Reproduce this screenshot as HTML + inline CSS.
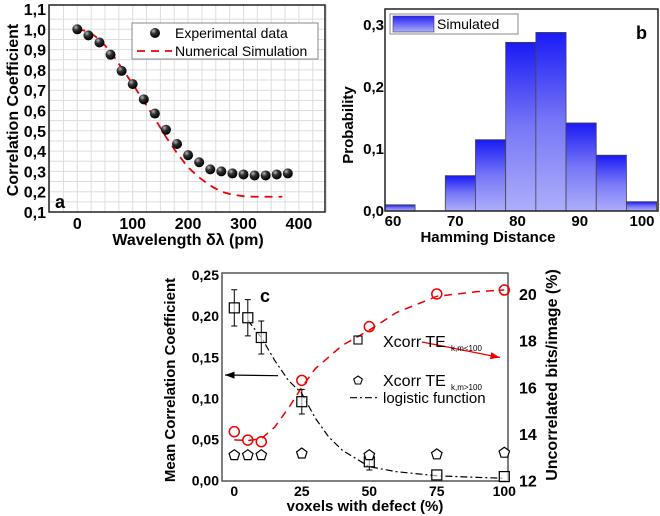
<!DOCTYPE html>
<html><head><meta charset="utf-8"><style>
body{margin:0;background:#fff;}
svg{display:block;font-family:"Liberation Sans",sans-serif;}
.b{font-weight:bold;}
</style></head><body>
<svg id="fig" width="660" height="516" viewBox="0 0 660 516">
<defs>
<linearGradient id="bg" x1="0" y1="0" x2="0" y2="1"><stop offset="0" stop-color="#1a1af5"/><stop offset="0.5" stop-color="#7777f7"/><stop offset="1" stop-color="#aeaefa"/></linearGradient>
<linearGradient id="lg" x1="0" y1="0" x2="0" y2="1"><stop offset="0" stop-color="#2222f5"/><stop offset="1" stop-color="#aeaefa"/></linearGradient>
<radialGradient id="ball" cx="0.35" cy="0.3" r="0.7"><stop offset="0" stop-color="#bbb"/><stop offset="0.4" stop-color="#333"/><stop offset="1" stop-color="#000"/></radialGradient>
<marker id="ak" markerWidth="8" markerHeight="6" refX="8" refY="3" orient="auto"><path d="M0,0L8,3L0,6z" fill="#000"/></marker>
<marker id="ar" markerWidth="8" markerHeight="6" refX="8" refY="3" orient="auto"><path d="M0,0L8,3L0,6z" fill="#e00"/></marker>
</defs>
<g id="pa"></g>
<g id="pb"></g>
<g id="pc"></g>
</svg>
<script>
// Panel a data
const aExpX=[0,20,40,60,80,100,120,140,160,180,200,220,240,260,280,300,320,340,360,380];
const aExpY=[1.0,0.97,0.935,0.875,0.795,0.73,0.655,0.585,0.505,0.435,0.38,0.345,0.31,0.3,0.29,0.285,0.28,0.28,0.285,0.29];
const aSimX=[0,20,40,60,80,100,120,140,160,180,200,220,240,260,280,300,320,340,370];
const aSimY=[1.0,0.99,0.95,0.89,0.81,0.73,0.645,0.56,0.47,0.39,0.32,0.27,0.23,0.2,0.185,0.178,0.175,0.175,0.175];
const aXTicks=[0,100,200,300,400];
const aYTicks=["0,1","0,2","0,3","0,4","0,5","0,6","0,7","0,8","0,9","1,0","1,1"];
// Panel b data
const bEdges=[58.7,63.55,68.4,73.25,78.1,82.95,87.8,92.65,97.5,102.35];
const bProb=[0.01,0,0.057,0.115,0.272,0.288,0.142,0.09,0.015];
const bXTicks=[60,70,80,90,100];
const bYTicks=["0,0","0,1","0,2","0,3"];
// Panel c data
const cX=[0,5,10,25,50,75,100];
const cSq=[0.21,0.198,0.174,0.096,0.023,0.007,0.005];
const cErr=[0.022,0.022,0.02,0.015,0.01,0,0];
const cPent=[0.031,0.031,0.031,0.033,0.031,0.032,0.034];
const cRed=[14.1,13.74,13.67,16.3,18.6,20.0,20.17];
const cLogX=[5,10,15,20,25,30,35,40,50,60,75,90,100];
const cLogY=[0.195,0.174,0.146,0.122,0.106,0.076,0.053,0.037,0.017,0.011,0.006,0.004,0.003];
const cFitX=[0,5,10,15,20,25,30,40,50,60,75,90,100];
const cFitY=[13.75,13.72,13.8,14.3,15.1,16.0,16.8,17.8,18.45,19.2,19.9,20.1,20.17];
const cXTicks=[0,25,50,75,100];
const cYTicks=["0,00","0,05","0,10","0,15","0,20","0,25"];
const cY2Ticks=[12,14,16,18,20];

const NS="http://www.w3.org/2000/svg";
function mk(p,t,a,txt){const e=document.createElementNS(NS,t);for(const k in a)e.setAttribute(k,a[k]);if(txt!==undefined)e.textContent=txt;p.appendChild(e);return e;}

// ---------- Panel a ----------
(function(){
const g=document.getElementById('pa');
const L=49,R=325,T=5,B=212;
const x=v=>77.3+v*0.554, y=v=>212-(v-0.1)*203;
for(let v=-50;v<=450;v+=25){const e=mk(g,'line',{x1:x(v),x2:x(v),y1:T,y2:B,stroke:'#ddd','stroke-width':1});}
for(let v=0.1;v<=1.1;v+=0.05){const e=mk(g,'line',{x1:L,x2:R,y1:y(v),y2:y(v),stroke:'#ddd','stroke-width':1});}
const fr=mk(g,'rect',{x:L,y:T,width:R-L,height:B-T,fill:'none',stroke:'#222','stroke-width':1.5});

aXTicks.forEach(v=>{const t=mk(g,'text',{x:x(v),y:229,'text-anchor':'middle','font-size':16,class:'b'},v);});
aYTicks.forEach((s,i)=>{const t=mk(g,'text',{x:46,y:y(0.1+i*0.1)+6,'text-anchor':'end','font-size':16,class:'b'},s);});
const sim=mk(g,'polyline',{points:aSimX.map((v,i)=>x(v)+','+y(aSimY[i])).join(' '),fill:'none',stroke:'#e00','stroke-width':1.8,'stroke-dasharray':'8,6'});

aExpX.forEach((v,i)=>{const c=mk(g,'circle',{cx:x(v),cy:y(aExpY[i]),r:5,fill:'url(#ball)'});});
const lb=mk(g,'rect',{x:132,y:23,width:186,height:36,fill:'#fff',stroke:'#888'});
mk(g,'circle',{cx:155,cy:33,r:5,fill:'url(#ball)'});
mk(g,'text',{x:175,y:38,'font-size':14},'Experimental data');
mk(g,'line',{x1:137,x2:172,y1:51,y2:51,stroke:'#e00','stroke-width':1.8,'stroke-dasharray':'8,6'});
mk(g,'text',{x:175,y:56,'font-size':14},'Numerical Simulation');
const pl=mk(g,'text',{x:55,y:208,'font-size':18,class:'b'},'a');
const xl=mk(g,'text',{x:188,y:245,'text-anchor':'middle','font-size':16,class:'b'},'Wavelength δλ (pm)');
const yl=mk(g,'text',{x:0,y:0,'text-anchor':'middle','font-size':16,class:'b',transform:'translate(18,110) rotate(-90)'},'Correlation Coefficient');
})();

// ---------- Panel b ----------
(function(){
const g=document.getElementById('pb');
const L=385,R=658,T=9,B=211;
const x=v=>393+(v-60)*6.225, y=v=>211-v*620;
mk(g,'rect',{x:L,y:T,width:R-L,height:B-T,fill:'#fff'});
bProb.forEach((p,i)=>{if(p<=0)return;const r=mk(g,'rect',{x:x(bEdges[i]),y:y(p),width:x(bEdges[i+1])-x(bEdges[i]),height:B-y(p),fill:'url(#bg)',stroke:'#444','stroke-width':0.8});});
const fr=mk(g,'rect',{x:L,y:T,width:R-L,height:B-T,fill:'none',stroke:'#222','stroke-width':1.5});
bXTicks.forEach(v=>{const t=mk(g,'text',{x:x(v),y:226,'text-anchor':'middle','font-size':15,class:'b'},v);});
bYTicks.forEach((s,i)=>{const t=mk(g,'text',{x:384,y:y(i*0.1)+5,'text-anchor':'end','font-size':15,class:'b'},s);});
const lb=mk(g,'rect',{x:390,y:14,width:128,height:20,fill:'#fff',stroke:'#888'});
mk(g,'rect',{x:393,y:16,width:41,height:16,fill:'url(#lg)',stroke:'#444','stroke-width':0.6});
mk(g,'text',{x:437,y:29,'font-size':14},'Simulated');
const pl=mk(g,'text',{x:636,y:39,'font-size':18,class:'b'},'b');
const xl=mk(g,'text',{x:488,y:242,'text-anchor':'middle','font-size':15,class:'b'},'Hamming Distance');
const yl=mk(g,'text',{x:0,y:0,'text-anchor':'middle','font-size':15,class:'b',transform:'translate(353,125) rotate(-90)'},'Probability');
})();

// ---------- Panel c ----------
(function(){
const g=document.getElementById('pc');
const L=222,R=508,T=273,B=481;
const x=v=>234.3+v*2.7, y=v=>480.7-v*823, y2=v=>480.7-(v-12)*23.34;
const fr=mk(g,'rect',{x:L,y:T,width:R-L,height:B-T,fill:'none',stroke:'#555','stroke-width':1.5});
cXTicks.forEach(v=>{const t=mk(g,'text',{x:x(v),y:496,'text-anchor':'middle','font-size':14,class:'b'},v);});
cYTicks.forEach((s,i)=>{const t=mk(g,'text',{x:219,y:y(i*0.05)+5,'text-anchor':'end','font-size':14,class:'b'},s);});
cY2Ticks.forEach(v=>{const t=mk(g,'text',{x:519,y:y2(v)+6,'font-size':16,class:'b'},v);});
const fit=mk(g,'polyline',{points:cFitX.map((v,i)=>x(v)+','+y2(cFitY[i])).join(' '),fill:'none',stroke:'#e00','stroke-width':1.5,'stroke-dasharray':'8,6'});
const lg=mk(g,'polyline',{points:cLogX.map((v,i)=>x(v)+','+y(cLogY[i])).join(' '),fill:'none',stroke:'#000','stroke-width':1.2,'stroke-dasharray':'7,3,2,3'});
cX.forEach((v,i)=>{
 const cx=x(v);
 if(cErr[i]>0){const e=mk(g,'path',{d:`M${cx},${y(cSq[i]+cErr[i])}V${y(cSq[i]-cErr[i])}M${cx-3},${y(cSq[i]+cErr[i])}h6M${cx-3},${y(cSq[i]-cErr[i])}h6`,stroke:'#000','stroke-width':1,fill:'none'});}
 const s=mk(g,'rect',{x:cx-5,y:y(cSq[i])-5,width:10,height:10,fill:'#fff','fill-opacity':0.6,stroke:'#000','stroke-width':1.2});
 const py=y(cPent[i]);const pts=[0,1,2,3,4].map(k=>{const a=-Math.PI/2+k*2*Math.PI/5;return (cx+5.5*Math.cos(a))+','+(py+5.5*Math.sin(a));}).join(' ');
 const p=mk(g,'polygon',{points:pts,fill:'#fff',stroke:'#000','stroke-width':1.2});
 const r=mk(g,'circle',{cx:cx,cy:y2(cRed[i]),r:5,fill:'none',stroke:'#e00','stroke-width':1.5});
});
const a1=mk(g,'line',{x1:278,y1:375.7,x2:225,y2:375,stroke:'#000','stroke-width':1.2,'marker-end':'url(#ak)'});
const a2=mk(g,'line',{x1:422,y1:342,x2:500,y2:357.5,stroke:'#e00','stroke-width':1.2,'marker-end':'url(#ar)'});
mk(g,'rect',{x:354,y:336,width:8,height:8,fill:'none',stroke:'#000','stroke-width':1.1});
const t1=mk(g,'text',{x:383,y:347,'font-size':16},'Xcorr TE');
mk(g,'text',{x:451,y:351,'font-size':8},'k,m<100');
mk(g,'polygon',{points:'358,376 362.3,379 360.6,384 355.4,384 353.7,379',fill:'#fff',stroke:'#000','stroke-width':1.1});
const t2=mk(g,'text',{x:383,y:386,'font-size':16},'Xcorr TE');
mk(g,'text',{x:451,y:390,'font-size':8},'k,m>100');
mk(g,'line',{x1:350,x2:378,y1:397.7,y2:397.7,stroke:'#000','stroke-width':1.2,'stroke-dasharray':'7,3,2,3'});
const t3=mk(g,'text',{x:383,y:403,'font-size':15},'logistic function');
const pl=mk(g,'text',{x:260,y:302,'font-size':18,class:'b'},'c');
const xl=mk(g,'text',{x:365,y:511,'text-anchor':'middle','font-size':15,class:'b'},'voxels with defect (%)');
const yl=mk(g,'text',{x:0,y:0,'text-anchor':'middle','font-size':15,class:'b',transform:'translate(175,380) rotate(-90)'},'Mean Correlation Coefficient');
const yr=mk(g,'text',{x:0,y:0,'text-anchor':'middle','font-size':16,class:'b',transform:'translate(557,375) rotate(-90)'},'Uncorrelated bits/image (%)');
})();
</script>
</body></html>
